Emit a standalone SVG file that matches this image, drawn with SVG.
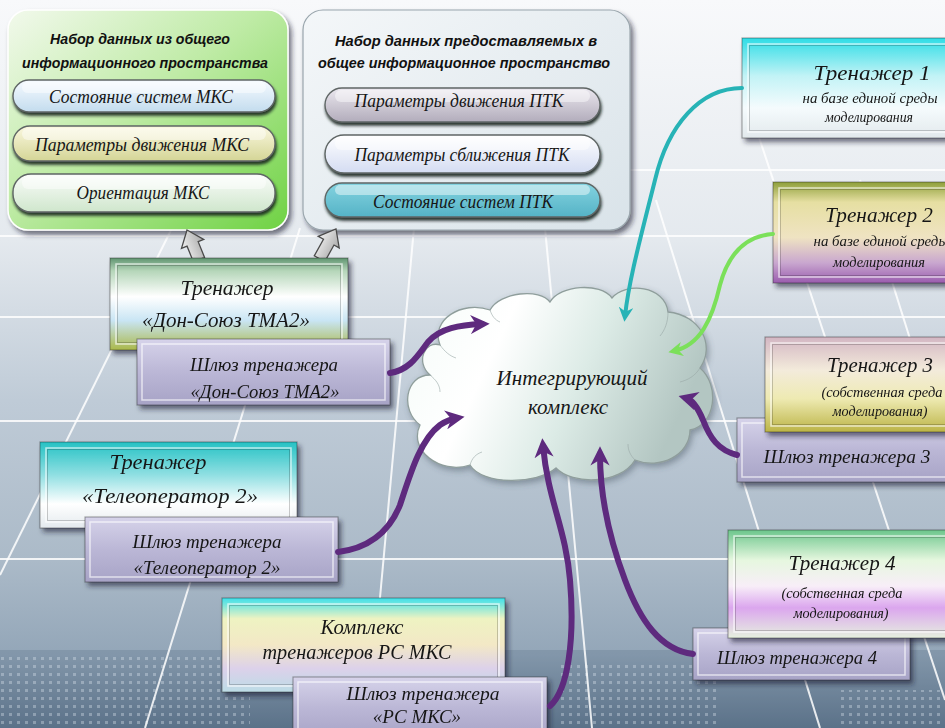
<svg xmlns="http://www.w3.org/2000/svg" width="945" height="728" viewBox="0 0 945 728">
<defs>
<style>
.t{font-family:"Liberation Serif","DejaVu Serif",serif;font-style:italic;fill:#161616;text-anchor:middle}
.h{font-family:"Liberation Sans",Arial,sans-serif;font-weight:bold;font-style:italic;font-size:15px;fill:#111;text-anchor:middle}
.box{stroke:rgba(30,30,30,.45);stroke-width:1}
.bev{fill:none;stroke:rgba(255,255,255,.65);stroke-width:1.5}
.bev2{fill:none;stroke:rgba(0,0,0,.2);stroke-width:1}
.grid{stroke:#fff;stroke-width:2;opacity:.85}
.pur{fill:none;stroke:#5e2a7e;stroke-width:6;stroke-linecap:round;marker-end:url(#ap)}
.pill{stroke:#5f6665;stroke-width:1.4}
.hl{fill:#fff;opacity:.45}
.garr{fill:url(#gArr);stroke:#4a4a4a;stroke-width:1.3}
</style>
<linearGradient id="bg" x1="0" y1="0" x2="0" y2="1">
<stop offset="0" stop-color="#f8f9fb"/>
<stop offset="0.33" stop-color="#e4e9ee"/>
<stop offset="0.55" stop-color="#bfcbd7"/>
<stop offset="0.77" stop-color="#abbac8"/>
<stop offset="0.9" stop-color="#93a6b8"/>
<stop offset="1" stop-color="#5f758c"/>
</linearGradient>
<linearGradient id="gP1" x1="0" y1="0" x2="1" y2="1">
<stop offset="0" stop-color="#f2f9ec"/>
<stop offset="0.45" stop-color="#bfeba6"/>
<stop offset="1" stop-color="#6fd244"/>
</linearGradient>
<linearGradient id="gP2" x1="0" y1="0" x2="1" y2="1">
<stop offset="0" stop-color="#f4f7f9"/>
<stop offset="1" stop-color="#d9e3e9"/>
</linearGradient>
<linearGradient id="pl1" x1="0" y1="0" x2="0" y2="1"><stop offset="0" stop-color="#f7fbff"/><stop offset="1" stop-color="#c3dcee"/></linearGradient>
<linearGradient id="pl2" x1="0" y1="0" x2="0" y2="1"><stop offset="0" stop-color="#fbf8e0"/><stop offset="1" stop-color="#d4d596"/></linearGradient>
<linearGradient id="pl3" x1="0" y1="0" x2="0" y2="1"><stop offset="0" stop-color="#fbfdfb"/><stop offset="1" stop-color="#cfe6cc"/></linearGradient>
<linearGradient id="pl4" x1="0" y1="0" x2="0" y2="1"><stop offset="0" stop-color="#ebe8ef"/><stop offset="1" stop-color="#b2acbb"/></linearGradient>
<linearGradient id="pl5" x1="0" y1="0" x2="0" y2="1"><stop offset="0" stop-color="#ffffff"/><stop offset="1" stop-color="#d4dcf2"/></linearGradient>
<linearGradient id="pl6" x1="0" y1="0" x2="0" y2="1"><stop offset="0" stop-color="#84d3e0"/><stop offset="1" stop-color="#55b3c6"/></linearGradient>
<linearGradient id="gDon" x1="0" y1="0" x2="0" y2="1">
<stop offset="0" stop-color="#5f9470"/><stop offset="0.14" stop-color="#b5d6b9"/><stop offset="0.42" stop-color="#ffffff"/><stop offset="0.68" stop-color="#c9e5f4"/><stop offset="1" stop-color="#aab84a"/>
</linearGradient>
<linearGradient id="gTel" x1="0" y1="0" x2="0" y2="1">
<stop offset="0" stop-color="#25c2c4"/><stop offset="0.38" stop-color="#8fdfe2"/><stop offset="0.72" stop-color="#ffffff"/><stop offset="1" stop-color="#e4eaee"/>
</linearGradient>
<linearGradient id="gRS" x1="0" y1="0" x2="0" y2="1">
<stop offset="0" stop-color="#3ee0ea"/><stop offset="0.22" stop-color="#eef3c2"/><stop offset="0.5" stop-color="#f3e8c6"/><stop offset="0.75" stop-color="#dcd1ea"/><stop offset="1" stop-color="#bcdce6"/>
</linearGradient>
<linearGradient id="gT1" x1="0" y1="0" x2="0" y2="1">
<stop offset="0" stop-color="#2edde6"/><stop offset="0.38" stop-color="#c2f3f6"/><stop offset="0.7" stop-color="#f5fbfd"/><stop offset="1" stop-color="#e2e9ec"/>
</linearGradient>
<linearGradient id="gT2" x1="0" y1="0" x2="0" y2="1">
<stop offset="0" stop-color="#8e9f3a"/><stop offset="0.2" stop-color="#e6dfa2"/><stop offset="0.55" stop-color="#efe3c2"/><stop offset="0.8" stop-color="#c9a7cf"/><stop offset="1" stop-color="#9a5cae"/>
</linearGradient>
<linearGradient id="gT3" x1="0" y1="0" x2="0" y2="1">
<stop offset="0" stop-color="#d3b6c3"/><stop offset="0.35" stop-color="#f3ebdb"/><stop offset="0.65" stop-color="#eeeab2"/><stop offset="1" stop-color="#bcb446"/>
</linearGradient>
<linearGradient id="gT4" x1="0" y1="0" x2="0" y2="1">
<stop offset="0" stop-color="#6cc68c"/><stop offset="0.28" stop-color="#e6f7df"/><stop offset="0.52" stop-color="#f8eef8"/><stop offset="0.72" stop-color="#dba6ee"/><stop offset="1" stop-color="#e6f0df"/>
</linearGradient>
<linearGradient id="gGw" x1="0" y1="0" x2="0" y2="1">
<stop offset="0" stop-color="#d6d3ea"/><stop offset="0.5" stop-color="#bbb7d6"/><stop offset="1" stop-color="#a7a3c6"/>
</linearGradient>
<linearGradient id="gCloud" x1="0" y1="0" x2="1" y2="0.3">
<stop offset="0" stop-color="#f4fbf8"/><stop offset="0.35" stop-color="#ffffff"/><stop offset="0.65" stop-color="#dcebe6"/><stop offset="1" stop-color="#b3c6c2"/>
</linearGradient>
<linearGradient id="gArr" x1="0" y1="0" x2="1" y2="0">
<stop offset="0" stop-color="#f2f2f2"/><stop offset="1" stop-color="#a8a8a8"/>
</linearGradient>
<pattern id="dots" width="8" height="8" patternUnits="userSpaceOnUse"><rect x="1" y="1" width="3" height="3" fill="#dfe8f0" opacity="0.35"/></pattern>
<filter id="sh" x="-10%" y="-15%" width="130%" height="150%"><feDropShadow dx="3" dy="4" stdDeviation="2.5" flood-color="#1c2430" flood-opacity="0.6"/></filter>
<filter id="psh" x="-10%" y="-20%" width="125%" height="160%"><feDropShadow dx="1" dy="3" stdDeviation="1.4" flood-color="#18201a" flood-opacity="0.9"/></filter>
<filter id="csh" x="-10%" y="-10%" width="125%" height="130%"><feDropShadow dx="2" dy="3" stdDeviation="3" flood-color="#40505a" flood-opacity="0.45"/></filter>
<marker id="ap" viewBox="0 0 10 10" refX="6" refY="5" markerWidth="3.2" markerHeight="3.2" orient="auto"><path d="M0,0 L10,5 L0,10 L3,5 z" fill="#5e2a7e"/></marker>
<marker id="at" viewBox="0 0 10 10" refX="6" refY="5" markerWidth="3.6" markerHeight="3.6" orient="auto"><path d="M0,0 L10,5 L0,10 L3,5 z" fill="#27b3b6"/></marker>
<marker id="ag" viewBox="0 0 10 10" refX="6" refY="5" markerWidth="3.6" markerHeight="3.6" orient="auto"><path d="M0,0 L10,5 L0,10 L3,5 z" fill="#7be05a"/></marker>
</defs>

<!-- background -->
<rect width="945" height="728" fill="url(#bg)"/>
<rect x="0" y="650" width="945" height="78" fill="#4f6780" opacity="0.25"/>
<rect x="0" y="655" width="250" height="73" fill="url(#dots)"/>
<rect x="390" y="660" width="110" height="68" fill="url(#dots)"/>
<rect x="560" y="660" width="160" height="68" fill="url(#dots)"/>
<rect x="840" y="690" width="105" height="38" fill="url(#dots)"/>
<g id="grid">
<line class="grid" x1="600" y1="170" x2="945" y2="170"/>
<line class="grid" x1="0" y1="236" x2="945" y2="236"/>
<line class="grid" x1="0" y1="317" x2="945" y2="317"/>
<line class="grid" x1="0" y1="421" x2="945" y2="421"/>
<line class="grid" x1="0" y1="559" x2="945" y2="559"/>
<line class="grid" x1="172" y1="228" x2="0" y2="575"/>
<line class="grid" x1="300" y1="228" x2="145" y2="728"/>
<line class="grid" x1="414" y1="228" x2="368" y2="728"/>
<line class="grid" x1="545" y1="228" x2="592" y2="728"/>
<line class="grid" x1="656" y1="200" x2="820" y2="728"/>
<line class="grid" x1="750" y1="110" x2="945" y2="700"/>
<line class="grid" x1="860" y1="180" x2="945" y2="450"/>
</g>

<!-- panel 1 -->
<g id="panel-isk">
<rect x="8" y="10" width="280" height="220" rx="20" fill="url(#gP1)" stroke="#ffffff" stroke-width="1.5" filter="url(#sh)"/>
<text class="h" x="140" y="44" textLength="180" lengthAdjust="spacingAndGlyphs">Набор данных  из общего</text>
<text class="h" x="145" y="68" textLength="246" lengthAdjust="spacingAndGlyphs">информационного  пространства</text>
<g filter="url(#psh)"><rect class="pill" x="13" y="80" width="262" height="32" rx="16" fill="url(#pl1)"/></g>
<rect class="hl" x="22" y="82" width="244" height="11" rx="6"/>
<text class="t" x="141" y="103" font-size="19" textLength="184" lengthAdjust="spacingAndGlyphs">Состояние систем МКС</text>
<g filter="url(#psh)"><rect class="pill" x="13" y="126" width="262" height="35" rx="17" fill="url(#pl2)"/></g>
<rect class="hl" x="22" y="128" width="244" height="12" rx="6"/>
<text class="t" x="142" y="151" font-size="19" textLength="214" lengthAdjust="spacingAndGlyphs">Параметры движения МКС</text>
<g filter="url(#psh)"><rect class="pill" x="13" y="174" width="262" height="38" rx="18" fill="url(#pl3)"/></g>
<rect class="hl" x="22" y="176" width="244" height="13" rx="6"/>
<text class="t" x="143" y="199" font-size="19" textLength="133" lengthAdjust="spacingAndGlyphs">Ориентация МКС</text>
</g>

<!-- panel 2 -->
<g id="panel-ptk">
<rect x="303" y="10" width="327" height="220" rx="20" fill="url(#gP2)" stroke="#9aa6ad" stroke-width="1.2" filter="url(#sh)"/>
<text class="h" x="466" y="46" textLength="262" lengthAdjust="spacingAndGlyphs">Набор данных  предоставляемых  в</text>
<text class="h" x="464" y="68" textLength="292" lengthAdjust="spacingAndGlyphs">общее информационное  пространство</text>
<g filter="url(#psh)"><rect class="pill" x="325" y="88" width="275" height="34" rx="17" fill="url(#pl4)"/></g>
<rect class="hl" x="335" y="90" width="255" height="12" rx="6"/>
<text class="t" x="459" y="107" font-size="19" textLength="209" lengthAdjust="spacingAndGlyphs">Параметры движения ПТК</text>
<g filter="url(#psh)"><rect class="pill" x="325" y="135" width="275" height="38" rx="19" fill="url(#pl5)"/></g>
<rect class="hl" x="335" y="137" width="255" height="13" rx="6"/>
<text class="t" x="462" y="161" font-size="19" textLength="215" lengthAdjust="spacingAndGlyphs">Параметры сближения ПТК</text>
<g filter="url(#psh)"><rect class="pill" x="325" y="183" width="275" height="34" rx="17" fill="url(#pl6)"/></g>
<rect class="hl" x="335" y="185" width="255" height="10" rx="5" opacity="0.3"/>
<text class="t" x="463" y="208" font-size="19" textLength="180" lengthAdjust="spacingAndGlyphs">Состояние систем ПТК</text>
</g>

<!-- grey block arrows to panels -->
<g id="arrows-up">
<path class="garr" transform="translate(187,230) rotate(-22)" d="M0,0 L12,15 L6,15 L6,32 L-6,32 L-6,15 L-12,15 Z"/>
<path class="garr" transform="translate(336,229) rotate(29)" d="M0,0 L12,15 L6,15 L6,34 L-6,34 L-6,15 L-12,15 Z"/>
</g>

<!-- Don-Soyuz trainer -->
<g id="trainer-don" filter="url(#sh)">
<rect class="box" x="110" y="258" width="238" height="92" fill="url(#gDon)"/>
<rect class="bev" x="116" y="264" width="226" height="80"/>
<rect class="bev2" x="117.5" y="265.5" width="223" height="77"/>
<text class="t" x="227" y="295" font-size="22" textLength="93" lengthAdjust="spacingAndGlyphs">Тренажер</text>
<text class="t" x="226" y="327" font-size="22" textLength="168" lengthAdjust="spacingAndGlyphs">«Дон-Союз ТМА2»</text>
</g>
<g id="gateway-don" filter="url(#sh)">
<rect class="box" x="137" y="339" width="253" height="66" fill="url(#gGw)"/>
<rect class="bev" x="142" y="344" width="243" height="56"/>
<text class="t" x="264" y="371" font-size="19" textLength="148" lengthAdjust="spacingAndGlyphs">Шлюз тренажера</text>
<text class="t" x="265" y="398" font-size="19" textLength="149" lengthAdjust="spacingAndGlyphs">«Дон-Союз ТМА2»</text>
</g>

<!-- Teleoperator trainer -->
<g id="trainer-tel" filter="url(#sh)">
<rect class="box" x="40" y="442" width="257" height="86" fill="url(#gTel)"/>
<rect class="bev" x="46" y="448" width="245" height="74"/>
<rect class="bev2" x="47.5" y="449.5" width="242" height="71"/>
<text class="t" x="158" y="469" font-size="22" textLength="97" lengthAdjust="spacingAndGlyphs">Тренажер</text>
<text class="t" x="170" y="503" font-size="22" textLength="176" lengthAdjust="spacingAndGlyphs">«Телеоператор 2»</text>
</g>
<g id="gateway-tel" filter="url(#sh)">
<rect class="box" x="85" y="517" width="253" height="65" fill="url(#gGw)"/>
<rect class="bev" x="90" y="522" width="243" height="55"/>
<text class="t" x="207" y="548" font-size="19" textLength="149" lengthAdjust="spacingAndGlyphs">Шлюз тренажера</text>
<text class="t" x="207" y="574" font-size="19" textLength="147" lengthAdjust="spacingAndGlyphs">«Телеоператор 2»</text>
</g>

<!-- RS MKS complex -->
<g id="trainer-rs" filter="url(#sh)">
<rect class="box" x="222" y="598" width="283" height="94" fill="url(#gRS)"/>
<rect class="bev" x="228" y="604" width="271" height="82"/>
<rect class="bev2" x="229.5" y="605.5" width="268" height="79"/>
<text class="t" x="362" y="634" font-size="21" textLength="83" lengthAdjust="spacingAndGlyphs">Комплекс</text>
<text class="t" x="357" y="659" font-size="21" textLength="189" lengthAdjust="spacingAndGlyphs">тренажеров РС МКС</text>
</g>
<g id="gateway-rs" filter="url(#sh)">
<rect class="box" x="293" y="677" width="254" height="62" fill="url(#gGw)"/>
<rect class="bev" x="298" y="682" width="244" height="52"/>
<text class="t" x="423" y="700" font-size="19" textLength="153" lengthAdjust="spacingAndGlyphs">Шлюз тренажера</text>
<text class="t" x="417" y="723" font-size="19">«РС МКС»</text>
</g>

<!-- Trainer 1 -->
<g id="trainer-1" filter="url(#sh)">
<rect class="box" x="742" y="38" width="215" height="100" fill="url(#gT1)"/>
<rect class="bev" x="748" y="44" width="203" height="88"/>
<rect class="bev2" x="749.5" y="45.5" width="200" height="85"/>
<text class="t" x="872" y="80" font-size="22" textLength="117" lengthAdjust="spacingAndGlyphs">Тренажер 1</text>
<text class="t" x="870" y="103" font-size="14" textLength="135" lengthAdjust="spacingAndGlyphs">на  базе единой  среды</text>
<text class="t" x="869" y="122" font-size="14" textLength="88" lengthAdjust="spacingAndGlyphs">моделирования</text>
</g>

<!-- Trainer 2 -->
<g id="trainer-2" filter="url(#sh)">
<rect class="box" x="773" y="182" width="190" height="101" fill="url(#gT2)"/>
<rect class="bev" x="779" y="188" width="178" height="89"/>
<rect class="bev2" x="780.5" y="189.5" width="175" height="86"/>
<text class="t" x="879" y="222" font-size="22" textLength="108" lengthAdjust="spacingAndGlyphs">Тренажер 2</text>
<text class="t" x="881" y="246" font-size="14" textLength="135" lengthAdjust="spacingAndGlyphs">на  базе единой  среды</text>
<text class="t" x="879" y="267" font-size="14" textLength="92" lengthAdjust="spacingAndGlyphs">моделирования</text>
</g>

<!-- Gateway 3 then Trainer 3 on top -->
<g id="gateway-3" filter="url(#sh)">
<rect class="box" x="737" y="418" width="220" height="64" fill="url(#gGw)"/>
<rect class="bev" x="742" y="423" width="210" height="54"/>
<text class="t" x="847" y="463" font-size="19" textLength="167" lengthAdjust="spacingAndGlyphs">Шлюз тренажера 3</text>
</g>
<g id="trainer-3" filter="url(#sh)">
<rect class="box" x="765" y="337" width="190" height="95" fill="url(#gT3)"/>
<rect class="bev" x="771" y="343" width="178" height="83"/>
<rect class="bev2" x="772.5" y="344.5" width="175" height="80"/>
<text class="t" x="880" y="372" font-size="22" textLength="106" lengthAdjust="spacingAndGlyphs">Тренажер 3</text>
<text class="t" x="882" y="397" font-size="14" textLength="121" lengthAdjust="spacingAndGlyphs">(собственная  среда</text>
<text class="t" x="880" y="416" font-size="14" textLength="95" lengthAdjust="spacingAndGlyphs">моделирования)</text>
</g>

<!-- Gateway 4 then Trainer 4 on top -->
<g id="gateway-4" filter="url(#sh)">
<rect class="box" x="693" y="628" width="217" height="52" fill="url(#gGw)"/>
<rect class="bev" x="698" y="633" width="207" height="42"/>
<text class="t" x="797" y="664" font-size="19" textLength="160" lengthAdjust="spacingAndGlyphs">Шлюз тренажера 4</text>
</g>
<g id="trainer-4" filter="url(#sh)">
<rect class="box" x="728" y="530" width="230" height="108" fill="url(#gT4)"/>
<rect class="bev" x="734" y="536" width="218" height="96"/>
<rect class="bev2" x="735.5" y="537.5" width="215" height="93"/>
<text class="t" x="842" y="570" font-size="22" textLength="107" lengthAdjust="spacingAndGlyphs">Тренажер 4</text>
<text class="t" x="842" y="598" font-size="14" textLength="121" lengthAdjust="spacingAndGlyphs">(собственная  среда</text>
<text class="t" x="841" y="618" font-size="14" textLength="95" lengthAdjust="spacingAndGlyphs">моделирования)</text>
</g>

<!-- Cloud -->
<g id="cloud">
<path filter="url(#csh)" fill="url(#gCloud)" stroke="#8f9e9c" stroke-width="1.3" d="M440,345 C430,320 462,300 490,310 C500,292 540,288 550,302 C560,285 600,282 612,298 C625,282 665,285 668,312 C700,315 716,345 700,368 C720,385 716,425 690,430 C690,455 660,470 635,460 C620,485 572,485 556,468 C536,485 482,485 470,465 C440,475 408,450 420,425 C400,410 405,375 430,375 C415,362 425,340 440,345 Z"/>
<path d="M440,345 C445,352 450,356 456,358 M490,310 C492,316 495,320 500,322 M668,312 C668,322 665,330 660,336 M700,368 C695,376 688,380 680,382 M635,460 C630,455 628,450 628,444 M470,465 C472,458 476,454 482,452 M430,375 C436,380 440,385 440,392" fill="none" stroke="#9aa9a7" stroke-width="1" opacity="0.6"/>
<text class="t" x="572" y="385" font-size="21" textLength="151" lengthAdjust="spacingAndGlyphs">Интегрирующий</text>
<text class="t" x="568" y="414" font-size="21" textLength="80" lengthAdjust="spacingAndGlyphs">комплекс</text>
</g>

<!-- Connectors -->
<g id="connectors">
<path d="M742,88 C700,88 668,125 655,180 C640,240 629,280 625,316" fill="none" stroke="#27b3b6" stroke-width="4" stroke-linecap="round" marker-end="url(#at)"/>
<path d="M773,234 C745,236 728,255 720,285 C712,320 700,345 674,351" fill="none" stroke="#7be05a" stroke-width="4" stroke-linecap="round" marker-end="url(#ag)"/>
<path class="pur" d="M390,373 C410,370 418,355 428,342 C440,328 460,325 482,324"/>
<path class="pur" d="M338,552 C370,548 390,530 400,505 C410,475 420,440 440,425 C446,421 451,419 457,418"/>
<path class="pur" d="M550,706 C568,690 575,640 570,580 C566,530 548,500 543,446"/>
<path class="pur" d="M693,654 C660,650 640,620 625,580 C608,535 600,490 600,454"/>
<path class="pur" d="M737,455 C718,450 710,438 703,420 C698,408 693,400 686,398"/>
</g>
</svg>
